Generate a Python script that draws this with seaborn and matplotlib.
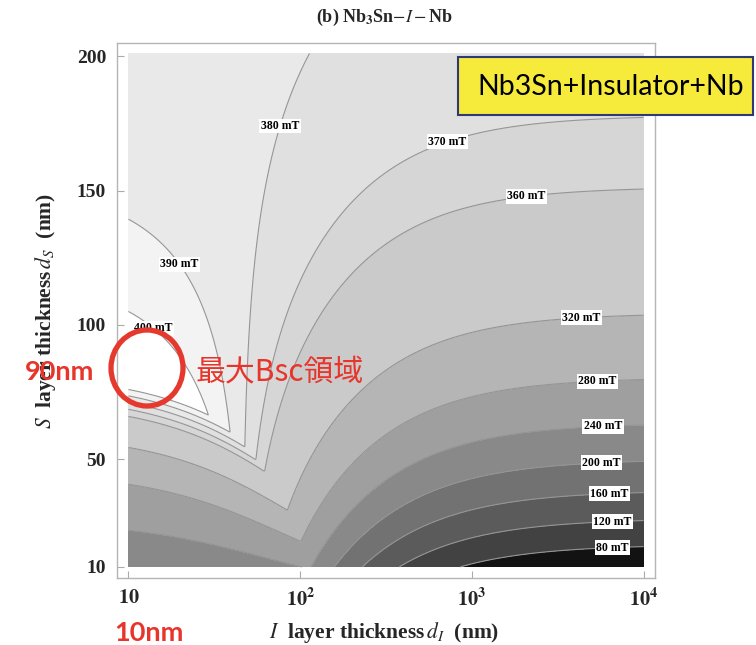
import numpy as np
import matplotlib
matplotlib.use("Agg")
import matplotlib.pyplot as plt
from matplotlib.patches import Rectangle, Ellipse
import seaborn as sns

# material parameters (Nb3Sn layer on Nb substrate), nm and mT
lambda_s = 86.0      # Nb3Sn penetration depth
bs_s = 382.0         # Nb3Sn superheating field
lambda_sub = 40.0    # Nb penetration depth
bs_sub = 200.0       # Nb superheating field

# axis ranges
d_i = np.logspace(1, 4, 700)
d_s = np.linspace(10, 201, 700)

# contour levels and band shades (dark -> light)
levels = [40, 80, 120, 160, 200, 240, 280, 320, 360, 370, 380, 390, 400, 440]
band_colors = ['#121212', '#424242', '#5b5b5b', '#727272', '#898989', '#9f9f9f',
               '#b5b5b5', '#cacaca', '#d6d6d6', '#e0e0e0', '#e9e9e9', '#f3f3f3', '#ffffff']
line_levels = [80, 120, 160, 200, 240, 280, 320, 360, 370, 380, 390, 400]

# where the contour labels sit (d_I, d_S)
label_pos = [(77, 174), (830, 165), (2090, 145), (18.8, 122.6), (14.9, 98.8),
             (4360, 101), (5400, 77.7), (5800, 61), (5700, 47.2), (6300, 36.4),
             (6600, 26.7), (6600, 16.7)]

x_ticks = [10, 100, 1000, 10000]
x_tick_labels = [r'$\mathbf{10}$', r'$\mathbf{10^2}$', r'$\mathbf{10^3}$', r'$\mathbf{10^4}$']
y_ticks = [10, 50, 100, 150, 200]

# maximum field: min of Nb3Sn-surface limit and Nb-substrate limit
DI, DS = np.meshgrid(d_i, d_s)
xs = DS / lambda_s
gam = (lambda_sub + DI) / lambda_s
num = np.cosh(xs) + gam * np.sinh(xs)
b_layer = bs_s * num / (np.sinh(xs) + gam * np.cosh(xs))
b_sub = bs_sub * num
b_max = np.minimum(b_layer, b_sub)

sns.set_theme(style='white')
plt.rcParams['font.family'] = ['Liberation Serif', 'DejaVu Sans']
plt.rcParams['mathtext.fontset'] = 'stix'

fig = plt.figure(figsize=(7.56, 6.45), dpi=100)
ax = fig.add_axes([0.155, 0.104, 0.711, 0.829])

ax.contourf(DI, DS, b_max, levels=levels, colors=band_colors)
cs = ax.contour(DI, DS, b_max, levels=line_levels, colors='#959595', linewidths=0.8)
labels = ax.clabel(cs, fmt='%d mT', manual=label_pos, inline=False, fontsize=8.5)
for t in labels:
    t.set_rotation(0)
    t.set_fontweight('bold')
    t.set_color('black')
    t.set_bbox(dict(facecolor='white', edgecolor='none', pad=1.0))

ax.set_xscale('log')
ax.set_xlim(8.6, 11600)
ax.set_ylim(5.9, 204.8)
ax.set_xticks(x_ticks)
ax.set_xticklabels(x_tick_labels, fontsize=14.5)
ax.xaxis.set_minor_locator(matplotlib.ticker.NullLocator())
ax.set_yticks(y_ticks)
ax.set_yticklabels([str(v) for v in y_ticks], fontsize=14, fontweight='bold')
ax.tick_params(direction='in', length=5, color='#aaaaaa', width=0.8, pad=8,
               bottom=True, left=True)
for sp in ax.spines.values():
    sp.set_color('#b5b5b5')
    sp.set_linewidth(1.0)

ax.set_xlabel(r'$\mathit{I}$  layer thickness$\,\mathit{d}_{\mathit{I}}$  (nm)',
              fontsize=15.5, fontweight='bold')
ax.xaxis.set_label_coords(0.497, -0.078)
ax.set_ylabel(r'$\mathit{S}$  layer thickness$\,\mathit{d}_{\mathit{S}}$  (nm)',
              fontsize=15.5, fontweight='bold')
ax.yaxis.set_label_coords(-0.11, 0.50)

fig.text(0.509, 0.973, r'(b) Nb$_\mathbf{3}$Sn$-\mathit{I}-$Nb', ha='center', va='center',
         fontsize=13, fontweight='bold')

# yellow material box (figure pixels -> fraction)
W, H = 756.0, 645.0
fig.patches.append(Rectangle((458 / W, 1 - 115 / H), 295 / W, 58 / H,
                             transform=fig.transFigure, facecolor='#f6ea3a',
                             edgecolor='#2e3a78', linewidth=1.5, zorder=5))
fig.text(611 / W, 1 - 87 / H, 'Nb3Sn+Insulator+Nb', ha='center', va='center',
         fontsize=20.5, family=['Lato', 'DejaVu Sans'], color='black', zorder=6)

# red circle marking the max-Bsc region
fig.patches.append(Ellipse((147 / W, 1 - 368 / H), 72 / W, 76 / H,
                           transform=fig.transFigure, facecolor='none',
                           edgecolor='#e5392e', linewidth=3.8, zorder=5))
red = '#e8352b'
fig.text(60 / W, 1 - 372 / H, '90nm', ha='center', va='center', fontsize=19.5,
         fontweight='bold', color=red, family=['Lato', 'DejaVu Sans'], zorder=6)
fig.text(196 / W, 1 - 372 / H, '最大Bsc領域', ha='left', va='center', fontsize=21.5,
         color=red, family=['Noto Sans CJK JP', 'DejaVu Sans'])
fig.text(149 / W, 1 - 633 / H, '10nm', ha='center', va='center', fontsize=19.5,
         fontweight='bold', color=red, family=['Lato', 'DejaVu Sans'])

fig.savefig('out.png', dpi=100)
